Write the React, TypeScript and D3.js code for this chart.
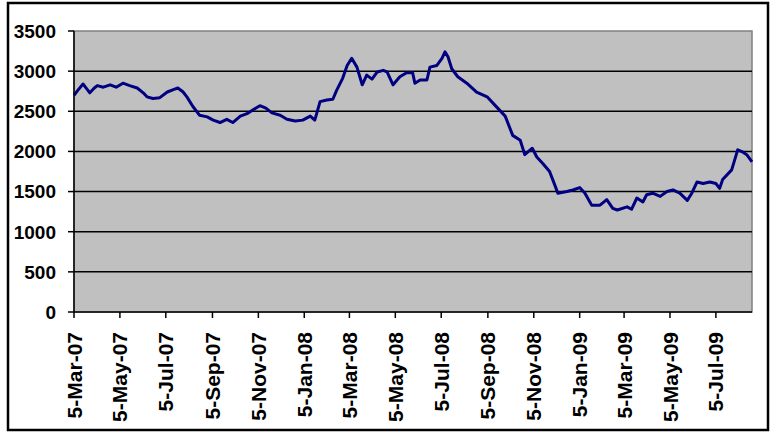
import React from "react";
import * as d3 from "d3";

const dates: string[] = [
  "2007-03-05","2007-03-10","2007-03-17","2007-03-22","2007-03-26","2007-04-01","2007-04-05","2007-04-13","2007-04-22","2007-04-30",
  "2007-05-09","2007-05-18","2007-05-28","2007-06-05","2007-06-10","2007-06-18","2007-06-27","2007-07-07","2007-07-15","2007-07-21",
  "2007-07-28","2007-08-02","2007-08-10","2007-08-19","2007-08-29","2007-09-06","2007-09-15","2007-09-24","2007-10-02","2007-10-12",
  "2007-10-21","2007-10-29","2007-11-07","2007-11-15","2007-11-23","2007-12-04","2007-12-13","2007-12-24","2008-01-03","2008-01-13",
  "2008-01-19","2008-01-26","2008-02-04","2008-02-12","2008-02-17","2008-02-25","2008-03-02","2008-03-08","2008-03-15","2008-03-22",
  "2008-03-28","2008-04-04","2008-04-11","2008-04-19","2008-04-24","2008-05-02","2008-05-11","2008-05-20","2008-05-28","2008-05-31",
  "2008-06-07","2008-06-16","2008-06-20","2008-06-29","2008-07-06","2008-07-10","2008-07-14","2008-07-19","2008-07-27","2008-08-08",
  "2008-08-21","2008-09-04","2008-09-14","2008-09-28","2008-10-08","2008-10-18","2008-10-24","2008-11-03","2008-11-09","2008-11-17",
  "2008-11-26","2008-12-03","2008-12-07","2008-12-19","2008-12-27","2009-01-05","2009-01-12","2009-01-21","2009-02-01","2009-02-10",
  "2009-02-18","2009-02-24","2009-03-09","2009-03-15","2009-03-22","2009-03-30","2009-04-04","2009-04-12","2009-04-22","2009-05-01",
  "2009-05-09","2009-05-18","2009-05-28","2009-06-03","2009-06-10","2009-06-18","2009-06-27","2009-07-05","2009-07-10","2009-07-14",
  "2009-07-26","2009-08-03","2009-08-10","2009-08-15","2009-08-22"
];

const values: number[] = [
  2700,2760,2840,2780,2730,2790,2820,2800,2830,2800,
  2850,2820,2790,2730,2680,2660,2670,2740,2770,2790,
  2740,2680,2560,2450,2430,2390,2360,2400,2360,2440,
  2470,2520,2570,2540,2480,2450,2400,2380,2390,2440,
  2390,2620,2640,2650,2760,2910,3070,3160,3050,2830,
  2950,2900,2990,3010,2990,2830,2930,2980,2980,2850,
  2890,2890,3050,3070,3160,3240,3180,3030,2930,2850,
  2740,2680,2580,2440,2200,2140,1960,2040,1930,1850,
  1750,1580,1480,1500,1520,1550,1480,1330,1330,1400,
  1290,1270,1310,1280,1420,1370,1460,1480,1440,1500,
  1520,1480,1390,1480,1620,1600,1620,1600,1540,1650,
  1770,2020,1990,1960,1870
];

const xTickDates: string[] = [
  "2007-03-05","2007-05-05","2007-07-05","2007-09-05","2007-11-05","2008-01-05","2008-03-05",
  "2008-05-05","2008-07-05","2008-09-05","2008-11-05","2009-01-05","2009-03-05","2009-05-05","2009-07-05"
];
const yTicks: number[] = [0, 500, 1000, 1500, 2000, 2500, 3000, 3500];

const parse = d3.timeParse("%Y-%m-%d");
const fmt = d3.timeFormat("%-d-%b-%y");

export default function App() {
  const W = 773, H = 432;
  const left = 74, right = 752, top = 31, bottom = 312;
  const x = d3.scaleTime()
    .domain([parse("2007-03-05") as Date, parse("2009-08-22") as Date])
    .range([left, right]);
  const y = d3.scaleLinear().domain([0, 3500]).range([bottom, top]);
  const pts = dates.map((d, i) => [x(parse(d) as Date), y(values[i])] as [number, number]);
  const line = d3.line<[number, number]>().x(d => d[0]).y(d => d[1])(pts) || "";
  const font = "Arial, 'Liberation Sans', sans-serif";

  return (
    <svg width={W} height={H} style={{ position: "absolute", left: 0, top: 0, background: "#fff" }}>
      <rect x={8} y={3} width={760} height={427} fill="#fff" stroke="#000" strokeWidth={2.5} />
      <rect x={left} y={top} width={right - left} height={bottom - top} fill="#c0c0c0" stroke="#808080" strokeWidth={1.5} />
      {yTicks.filter(t => t > 0 && t < 3500).map(t => (
        <line key={t} x1={left} x2={right} y1={y(t)} y2={y(t)} stroke="#000" strokeWidth={1.5} />
      ))}
      <path d={line} fill="none" stroke="#000080" strokeWidth={3} strokeLinejoin="round" />
      <line x1={left} x2={left} y1={top} y2={bottom} stroke="#000" strokeWidth={1.5} />
      <line x1={left} x2={right} y1={bottom} y2={bottom} stroke="#000" strokeWidth={1.5} />
      {yTicks.map(t => (
        <g key={t}>
          <line x1={left - 6} x2={left} y1={y(t)} y2={y(t)} stroke="#000" strokeWidth={1.5} />
          <text x={56} y={y(t)} dy="0.36em" textAnchor="end" fontFamily={font} fontWeight="bold" fontSize={19} fill="#000">{t}</text>
        </g>
      ))}
      {xTickDates.map(d => {
        const xx = x(parse(d) as Date);
        return (
          <g key={d}>
            <line x1={xx} x2={xx} y1={bottom} y2={bottom + 6} stroke="#000" strokeWidth={1.5} />
            <text transform={`translate(${xx},332) rotate(-90)`} dy="0.36em" textAnchor="end" fontFamily={font} fontWeight="bold" fontSize={21} fill="#000">{fmt(parse(d) as Date)}</text>
          </g>
        );
      })}
    </svg>
  );
}
